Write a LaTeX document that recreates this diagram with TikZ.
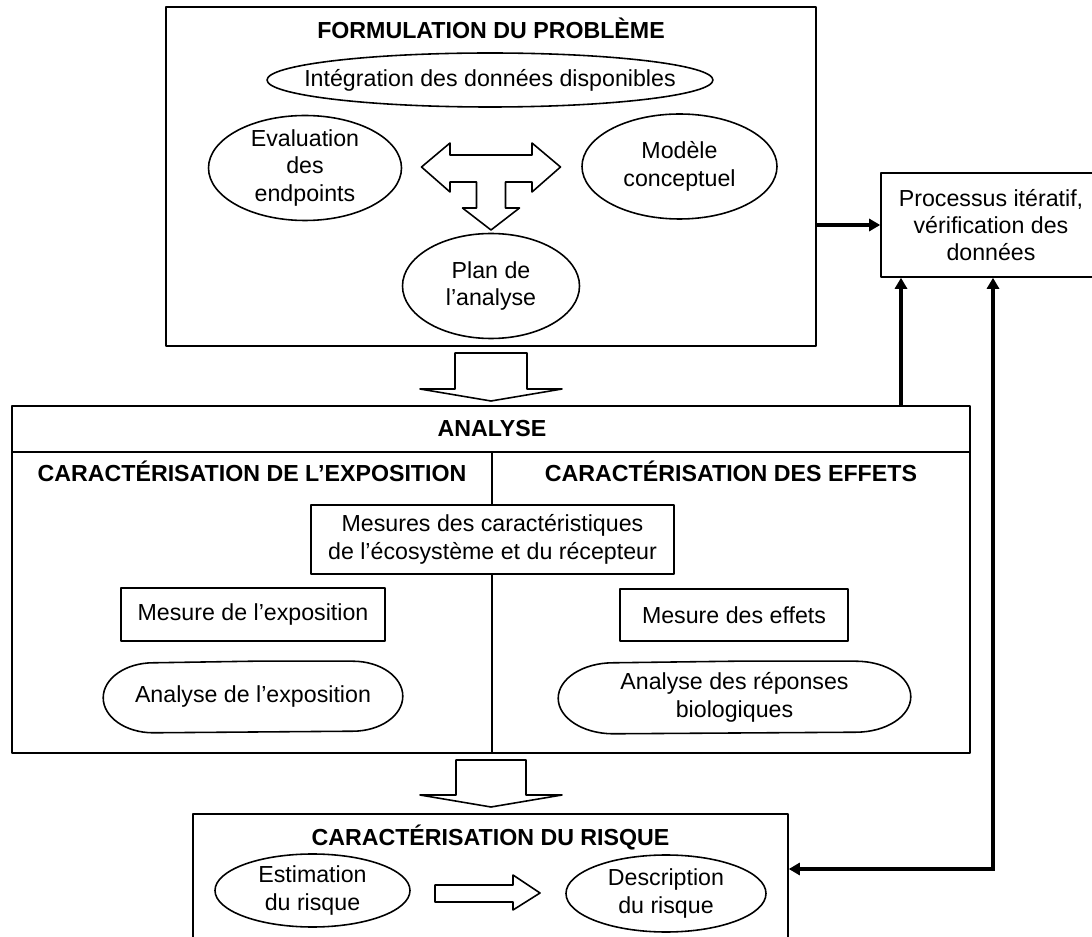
\documentclass[tikz,border=0pt]{standalone}
\usepackage{fontspec}
\setmainfont{Liberation Sans}
\usetikzlibrary{calc,shapes.geometric,arrows.meta}
\def\pillbox[#1](#2)(#3:#4){\draw[#1] (#2.north) -- ($(#2.north east)+(-#3,0)$) arc (90:-90:#3 and #4) -- ($(#2.south west)+(#3,0)$) arc (270:90:#3 and #4) -- cycle;}

\begin{document}
\begin{tikzpicture}[font=\fontsize{13.2}{15.6}\selectfont, line width=0.9pt, line join=round,
	cadre/.style={draw, inner sep=0pt, align=center},
	oval/.style={draw, ellipse, inner sep=0pt},
	flow/.style={line width=0.8mm, line join=miter, -{Triangle[length=2.2mm,width=2.4mm]}},
	flowboth/.style={line width=0.8mm, line join=miter, {Triangle[length=2.2mm,width=2.4mm]}-{Triangle[length=2.2mm,width=2.4mm]}},
	titre/.style={font=\fontsize{13.2}{15.6}\selectfont\bfseries, anchor=base}]
			%%%%% START %%%%%
			
			\useasboundingbox (0,0) rectangle (21.84,-18.74);
			\clip (0,0) rectangle (21.84,-18.74);
			
			\node[cadre, minimum width=13cm, minimum height=6.78cm] (formu) at (9.82,-3.53) {};
			\node[titre] (tformu) at (9.82,-0.78) {FORMULATION DU PROBLÈME};
			\node[oval, minimum width=8.92cm, minimum height=1.08cm, label={center:Intégration des données disponibles}] (integ) at (9.8,-1.6) {};
			\node[oval, minimum width=3.86cm, minimum height=2.1cm, label={[align=center]center:Evaluation\\des\\endpoints}] (evalu) at (6.1,-3.36) {};
			\node[oval, minimum width=3.9cm, minimum height=2.1cm, label={[align=center]center:Modèle\\conceptuel}] (modele) at (13.59,-3.33) {};
			\node[oval, minimum width=3.54cm, minimum height=2.1cm, label={[align=center]center:Plan de\\l'analyse}] (plan) at (9.82,-5.72) {};
			
			\draw (8.43,-3.34) -- (9.0,-2.86) -- (9.0,-3.1) -- (10.64,-3.1) -- (10.64,-2.86) -- (11.21,-3.34) -- (10.64,-3.84) -- (10.64,-3.64) -- (10.11,-3.64) -- (10.11,-4.16) -- (10.39,-4.16) -- (9.82,-4.6) -- (9.25,-4.16) -- (9.53,-4.16) -- (9.53,-3.64) -- (9.0,-3.64) -- (9.0,-3.84) -- cycle;
			
			\node[cadre, minimum width=4.4cm, minimum height=2.08cm] (proc) at (19.82,-4.5) {Processus itératif,\\vérification des\\données};
			
			\draw (9.1,-7.06) -- (10.54,-7.06) -- (10.54,-7.78) -- (11.24,-7.78) -- (9.82,-8.02) -- (8.4,-7.78) -- (9.1,-7.78) -- cycle;
			
			\node[cadre, minimum width=19.16cm, minimum height=6.94cm] (analy) at (9.82,-11.59) {};
			\draw (analy.west |- 0,-9.04) -- (analy.east |- 0,-9.04);
			\draw (9.84,-9.04) -- (9.84,-15.06);
			\node[titre] (tanaly) at (9.84,-8.74) {ANALYSE};
			\node[titre] (texpo) at (5.04,-9.64) {CARACTÉRISATION DE L’EXPOSITION};
			\node[titre] (teffet) at (14.62,-9.64) {CARACTÉRISATION DES EFFETS};
			
			\node[cadre, fill=white, minimum width=7.26cm, minimum height=1.38cm] (mesures) at (9.85,-10.79) {Mesures des caractéristiques\\de l’écosystème et du récepteur};
			\node[cadre, minimum width=5.28cm, minimum height=1.06cm] (mexpo) at (5.06,-12.29) {Mesure de l’exposition};
			\node[inner sep=0pt, minimum width=5.96cm, minimum height=1.4cm] (aexpo) at (5.06,-13.94) {Analyse de l’exposition};
			\pillbox[](aexpo)(1.0:0.7)
			\node[cadre, minimum width=4.56cm, minimum height=1.04cm] (meffet) at (14.68,-12.3) {Mesure des effets};
			\node[inner sep=0pt, align=center, minimum width=7.02cm, minimum height=1.42cm] (areponse) at (14.69,-13.95) {Analyse des réponses\\biologiques};
			\pillbox[](areponse)(1.1:0.71)
			
			\draw (9.12,-15.2) -- (10.52,-15.2) -- (10.52,-15.9) -- (11.24,-15.9) -- (9.82,-16.14) -- (8.4,-15.9) -- (9.12,-15.9) -- cycle;
			
			\node[cadre, anchor=north, minimum width=11.9cm, minimum height=2.94cm] (risque) at (9.81,-16.26) {};
			\node[titre] (trisque) at (9.81,-16.9) {CARACTÉRISATION DU RISQUE};
			\node[oval, minimum width=3.9cm, minimum height=1.46cm, label={[align=center, font=\fontsize{13.2}{16.4}\selectfont]center:Estimation\\du risque}] (estim) at (6.25,-17.81) {};
			\node[oval, minimum width=4.0cm, minimum height=1.54cm, label={[align=center, font=\fontsize{13.2}{16.4}\selectfont]center:Description\\du risque}] (descr) at (13.32,-17.87) {};
			\draw (8.7,-17.7) -- (10.26,-17.7) -- (10.26,-17.5) -- (10.8,-17.86) -- (10.26,-18.2) -- (10.26,-18.04) -- (8.7,-18.04) -- cycle;
			
			\coordinate (ret1) at (18.02,-6);
			\coordinate (ret2) at (19.86,-17.38);
			\draw[flow] (formu.east |- proc.west) -- (proc.west);
			\draw[flow] (analy.north -| ret1) -- (proc.south -| ret1);
			\draw[flowboth] (proc.south -| ret2) |- (risque.east |- ret2);
			
			%%%%% END %%%%%
\end{tikzpicture}
\end{document}
